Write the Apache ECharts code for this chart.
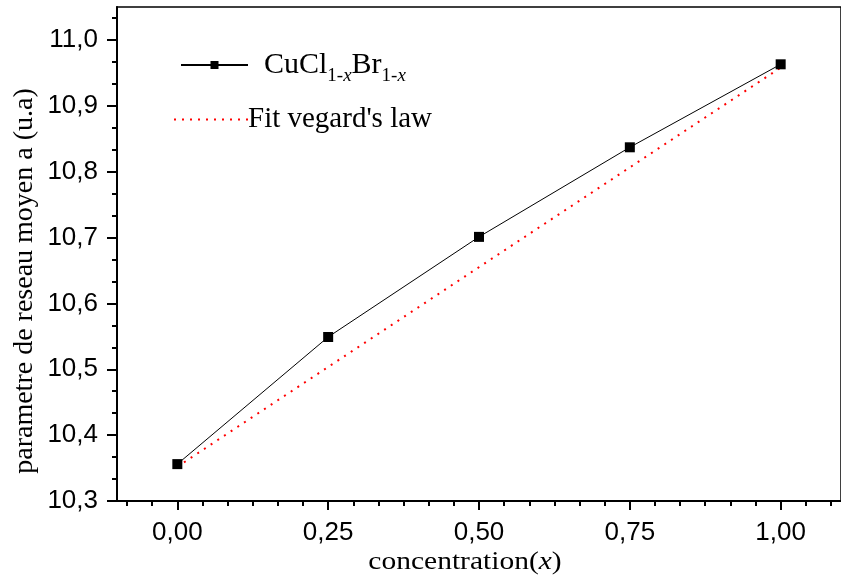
<!DOCTYPE html>
<html>
<head>
	<meta charset="utf-8">
	<title>CuCl Br - parametre de reseau</title>
	<script src="https://cdn.jsdelivr.net/npm/echarts@6/dist/echarts.min.js"></script>
	<style>
		html, body { margin: 0; padding: 0; background: #fff; }
		#chart { width: 841px; height: 576px; }
	</style>
</head>
<body>
<div id="chart"></div>
<script>
	// donnees
	var conc = [0, 0.25, 0.5, 0.75, 1.0];
	var latticeA = [10.356, 10.549, 10.701, 10.837, 10.963];
	var fitConc = [0, 1];
	var fitA = [10.352, 10.958];

	var xTicks = [0, 0.25, 0.5, 0.75, 1.0];
	var yTicks = [10.3, 10.4, 10.5, 10.6, 10.7, 10.8, 10.9, 11.0];

	// petites graduations (5 entre deux x, 2 entre deux y)
	var xMinor = [], yMinor = [];
	for (var i = -2; i <= 26; i++) { if (i % 6 != 0) xMinor.push(i / 24); }
	for (var j = 1; j <= 22; j++) { if (j % 3 != 0) yMinor.push(10.3 + j / 30); }

	var mainSeries = conc.map(function (c, k) { return [c, latticeA[k]]; });
	var fitSeries = fitConc.map(function (c, k) { return [c, fitA[k]]; });

	var tickFont = { fontFamily: 'Liberation Sans', fontSize: 26, color: '#000' };

	var myChart = echarts.init(document.getElementById('chart'));
	var option = {
		animation: false,
		grid: {
			left: 117, top: 7, right: -11, bottom: 75,
			show: true, borderColor: '#000', borderWidth: 1.5
		},
		legend: [
			{
				data: ['CuCl'], left: 180, top: 50, padding: 0, itemWidth: 67, itemHeight: 10,
				formatter: function () { return '{a|CuCl}{s|1-}{sx|x}{a|Br}{s|1-}{sx|x}'; },
				textStyle: {
					padding: [0, 0, 0, 11],
					rich: {
						a: { fontFamily: 'Liberation Serif', fontSize: 30, color: '#000' },
						s: { fontFamily: 'Liberation Serif', fontSize: 19, color: '#000', padding: [22, 0, 0, 0] },
						sx: { fontFamily: 'Liberation Serif', fontSize: 19, fontStyle: 'italic', color: '#000', padding: [22, 0, 0, 0] }
					}
				}
			},
			{
				data: ['Fit vegard\'s law'], left: 173, top: 105, padding: 0, itemWidth: 74, itemHeight: 10,
				itemStyle: { opacity: 0 },
				textStyle: { fontFamily: 'Liberation Serif', fontSize: 29, color: '#000', padding: [0, 0, 0, -5] }
			}
		],
		xAxis: [
			{
				type: 'value', min: -0.1, max: 1.1,
				axisLine: { onZero: false, lineStyle: { color: '#000', width: 2 } },
				axisTick: { customValues: xTicks, length: 9, lineStyle: { color: '#000', width: 2 } },
				axisLabel: {
					customValues: xTicks, margin: 19,
					formatter: function (v) { return v.toFixed(2).replace('.', ','); },
					fontFamily: tickFont.fontFamily, fontSize: tickFont.fontSize, color: tickFont.color
				},
				splitLine: { show: false }
			},
			{
				type: 'value', min: -0.1, max: 1.1, position: 'bottom',
				axisLine: { show: false, onZero: false },
				axisTick: { customValues: xMinor, length: 5, lineStyle: { color: '#000', width: 2 } },
				axisLabel: { show: false },
				splitLine: { show: false }
			}
		],
		yAxis: [
			{
				type: 'value', min: 10.3, max: 11.05,
				axisLine: { show: true, onZero: false, lineStyle: { color: '#000', width: 2 } },
				axisTick: { show: true, customValues: yTicks, length: 10, lineStyle: { color: '#000', width: 2 } },
				axisLabel: {
					customValues: yTicks, margin: 19,
					formatter: function (v) { return v.toFixed(1).replace('.', ','); },
					fontFamily: tickFont.fontFamily, fontSize: tickFont.fontSize, color: tickFont.color
				},
				splitLine: { show: false }
			},
			{
				type: 'value', min: 10.3, max: 11.05, position: 'left',
				axisLine: { show: false, onZero: false },
				axisTick: { show: true, customValues: yMinor, length: 5, lineStyle: { color: '#000', width: 2 } },
				axisLabel: { show: false },
				splitLine: { show: false }
			}
		],
		graphic: [
			{
				type: 'text', x: 465, y: 562, scaleX: 1.18,
				style: {
					text: '{n|concentration(}{i|x}{n|)}',
					align: 'center', verticalAlign: 'middle',
					rich: {
						n: { fontFamily: 'Liberation Serif', fontSize: 25, fill: '#000' },
						i: { fontFamily: 'Liberation Serif', fontSize: 25, fontStyle: 'italic', fill: '#000' }
					}
				}
			},
			{
				type: 'text', x: 25, y: 281, rotation: Math.PI / 2,
				style: {
					text: 'parametre de reseau moyen a (u.a)',
					fontFamily: 'Liberation Serif', fontSize: 28, fill: '#000',
					align: 'center', verticalAlign: 'middle'
				}
			}
		],
		series: [
			{
				name: 'CuCl', type: 'line', data: mainSeries,
				symbol: 'rect', symbolSize: 10,
				itemStyle: { color: '#000' },
				lineStyle: { color: '#000', width: 1 }
			},
			{
				name: 'Fit vegard\'s law', type: 'line', data: fitSeries,
				showSymbol: false, symbol: 'none',
				itemStyle: { color: '#ff0000' },
				lineStyle: { color: '#ff0000', width: 2, type: [2, 6] }
			}
		]
	};
	myChart.setOption(option);
</script>
</body>
</html>
